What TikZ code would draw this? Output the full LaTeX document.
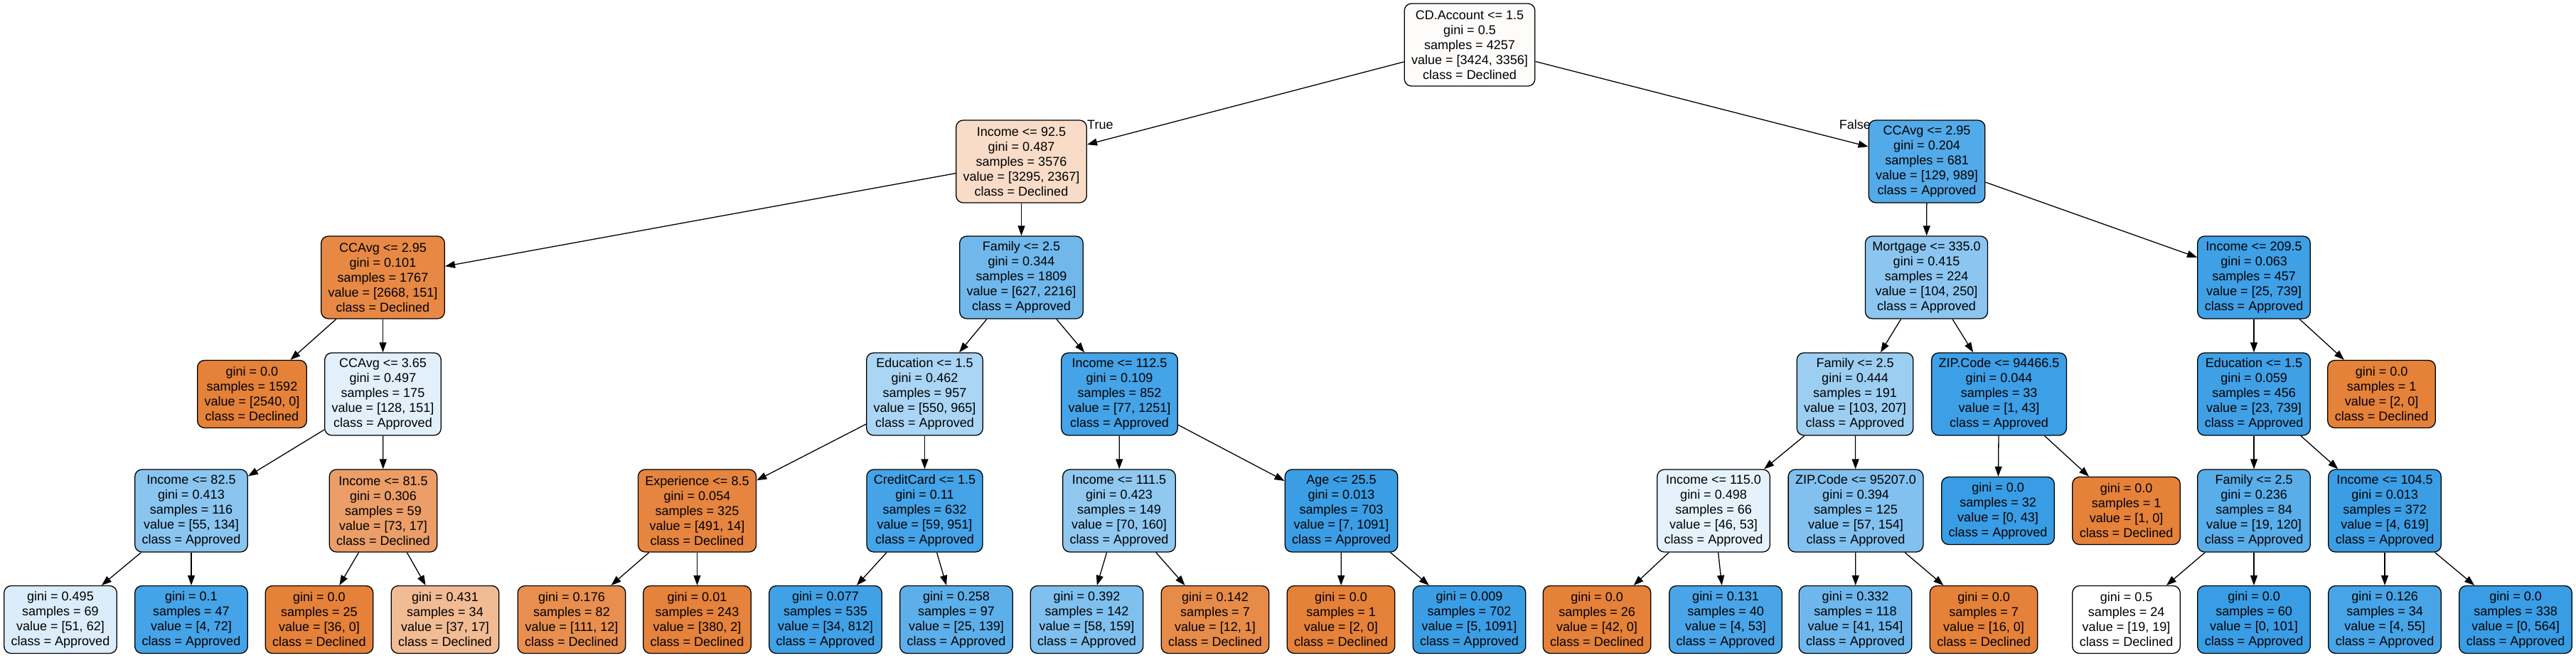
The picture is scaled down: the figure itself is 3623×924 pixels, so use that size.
\documentclass[tikz,border=0pt]{standalone}
\usepackage{fontspec}
\setmainfont{Liberation Sans}
\usetikzlibrary{arrows.meta}
\definecolor{dec}{HTML}{E58139}
\definecolor{app}{HTML}{399DE5}
\tikzset{
  tn/.style={draw=black, line width=1.3pt, rounded corners=10pt, align=center,
    inner xsep=10pt, inner ysep=0pt, font=\fontsize{18}{21}\selectfont},
  inode/.style={tn, minimum height=116pt},
  lnode/.style={tn, minimum height=95pt},
  conn/.style={line width=1.3pt, -{Triangle[length=14pt,width=10pt]}},
  elabel/.style={font=\fontsize{18}{21}\selectfont, inner sep=0pt}
}
\begin{document}
\begin{tikzpicture}[x=1pt,y=-1pt]
\useasboundingbox (0,0) rectangle (3623,924);
% rank 0
\node[inode, fill=dec!2!white] (n0) at (2067,63) {CD.Account <= 1.5\\gini = 0.5\\samples = 4257\\value = [3424, 3356]\\class = Declined};
% rank 1
\node[inode, fill=dec!28!white] (n1) at (1436.5,227) {Income <= 92.5\\gini = 0.487\\samples = 3576\\value = [3295, 2367]\\class = Declined};
\node[inode, fill=app!87!white] (n2) at (2710,227) {CCAvg <= 2.95\\gini = 0.204\\samples = 681\\value = [129, 989]\\class = Approved};
% rank 2
\node[inode, fill=dec!94!white] (n3) at (538.5,390) {CCAvg <= 2.95\\gini = 0.101\\samples = 1767\\value = [2668, 151]\\class = Declined};
\node[inode, fill=app!72!white] (n4) at (1436.5,390) {Family <= 2.5\\gini = 0.344\\samples = 1809\\value = [627, 2216]\\class = Approved};
\node[inode, fill=app!58!white] (n5) at (2709.5,390) {Mortgage <= 335.0\\gini = 0.415\\samples = 224\\value = [104, 250]\\class = Approved};
\node[inode, fill=app!97!white] (n6) at (3170,390) {Income <= 209.5\\gini = 0.063\\samples = 457\\value = [25, 739]\\class = Approved};
% rank 3
\node[lnode, fill=dec!100!white] (n7) at (354.5,554) {gini = 0.0\\samples = 1592\\value = [2540, 0]\\class = Declined};
\node[inode, fill=app!15!white] (n8) at (538.5,554) {CCAvg <= 3.65\\gini = 0.497\\samples = 175\\value = [128, 151]\\class = Approved};
\node[inode, fill=app!43!white] (n9) at (1300.5,554) {Education <= 1.5\\gini = 0.462\\samples = 957\\value = [550, 965]\\class = Approved};
\node[inode, fill=app!94!white] (n10) at (1574.5,554) {Income <= 112.5\\gini = 0.109\\samples = 852\\value = [77, 1251]\\class = Approved};
\node[inode, fill=app!50!white] (n11) at (2609,554) {Family <= 2.5\\gini = 0.444\\samples = 191\\value = [103, 207]\\class = Approved};
\node[inode, fill=app!98!white] (n12) at (2811.5,554) {ZIP.Code <= 94466.5\\gini = 0.044\\samples = 33\\value = [1, 43]\\class = Approved};
\node[inode, fill=app!97!white] (n13) at (3170,554) {Education <= 1.5\\gini = 0.059\\samples = 456\\value = [23, 739]\\class = Approved};
\node[lnode, fill=dec!100!white] (n14) at (3349.5,554) {gini = 0.0\\samples = 1\\value = [2, 0]\\class = Declined};
% rank 4
\node[inode, fill=app!59!white] (n15) at (269,718) {Income <= 82.5\\gini = 0.413\\samples = 116\\value = [55, 134]\\class = Approved};
\node[inode, fill=dec!77!white] (n16) at (539,718) {Income <= 81.5\\gini = 0.306\\samples = 59\\value = [73, 17]\\class = Declined};
\node[inode, fill=dec!97!white] (n17) at (980.5,718) {Experience <= 8.5\\gini = 0.054\\samples = 325\\value = [491, 14]\\class = Declined};
\node[inode, fill=app!94!white] (n18) at (1300.5,718) {CreditCard <= 1.5\\gini = 0.11\\samples = 632\\value = [59, 951]\\class = Approved};
\node[inode, fill=app!56!white] (n19) at (1574,718) {Income <= 111.5\\gini = 0.423\\samples = 149\\value = [70, 160]\\class = Approved};
\node[inode, fill=app!99!white] (n20) at (1886.5,718) {Age <= 25.5\\gini = 0.013\\samples = 703\\value = [7, 1091]\\class = Approved};
\node[inode, fill=app!13!white] (n21) at (2410,718) {Income <= 115.0\\gini = 0.498\\samples = 66\\value = [46, 53]\\class = Approved};
\node[inode, fill=app!63!white] (n22) at (2610,718) {ZIP.Code <= 95207.0\\gini = 0.394\\samples = 125\\value = [57, 154]\\class = Approved};
\node[lnode, fill=app!100!white] (n23) at (2810,718) {gini = 0.0\\samples = 32\\value = [0, 43]\\class = Approved};
\node[lnode, fill=dec!100!white] (n24) at (2990.5,718) {gini = 0.0\\samples = 1\\value = [1, 0]\\class = Declined};
\node[inode, fill=app!84!white] (n25) at (3170,718) {Family <= 2.5\\gini = 0.236\\samples = 84\\value = [19, 120]\\class = Approved};
\node[inode, fill=app!99!white] (n26) at (3354,718) {Income <= 104.5\\gini = 0.013\\samples = 372\\value = [4, 619]\\class = Approved};
% rank 5
\node[lnode, fill=app!18!white] (n27) at (85,871) {gini = 0.495\\samples = 69\\value = [51, 62]\\class = Approved};
\node[lnode, fill=app!94!white] (n28) at (269,871) {gini = 0.1\\samples = 47\\value = [4, 72]\\class = Approved};
\node[lnode, fill=dec!100!white] (n29) at (449,871) {gini = 0.0\\samples = 25\\value = [36, 0]\\class = Declined};
\node[lnode, fill=dec!54!white] (n30) at (626,871) {gini = 0.431\\samples = 34\\value = [37, 17]\\class = Declined};
\node[lnode, fill=dec!89!white] (n31) at (804,871) {gini = 0.176\\samples = 82\\value = [111, 12]\\class = Declined};
\node[lnode, fill=dec!99!white] (n32) at (980.5,871) {gini = 0.01\\samples = 243\\value = [380, 2]\\class = Declined};
\node[lnode, fill=app!96!white] (n33) at (1161,871) {gini = 0.077\\samples = 535\\value = [34, 812]\\class = Approved};
\node[lnode, fill=app!82!white] (n34) at (1345,871) {gini = 0.258\\samples = 97\\value = [25, 139]\\class = Approved};
\node[lnode, fill=app!64!white] (n35) at (1528.5,871) {gini = 0.392\\samples = 142\\value = [58, 159]\\class = Approved};
\node[lnode, fill=dec!92!white] (n36) at (1709,871) {gini = 0.142\\samples = 7\\value = [12, 1]\\class = Declined};
\node[lnode, fill=dec!100!white] (n37) at (1886,871) {gini = 0.0\\samples = 1\\value = [2, 0]\\class = Declined};
\node[lnode, fill=app!99!white] (n38) at (2066.5,871) {gini = 0.009\\samples = 702\\value = [5, 1091]\\class = Approved};
\node[lnode, fill=dec!100!white] (n39) at (2246,871) {gini = 0.0\\samples = 26\\value = [42, 0]\\class = Declined};
\node[lnode, fill=app!92!white] (n40) at (2427,871) {gini = 0.131\\samples = 40\\value = [4, 53]\\class = Approved};
\node[lnode, fill=app!73!white] (n41) at (2609.5,871) {gini = 0.332\\samples = 118\\value = [41, 154]\\class = Approved};
\node[lnode, fill=dec!100!white] (n42) at (2790,871) {gini = 0.0\\samples = 7\\value = [16, 0]\\class = Declined};
\node[lnode, fill=white] (n43) at (2990.5,871) {gini = 0.5\\samples = 24\\value = [19, 19]\\class = Declined};
\node[lnode, fill=app!100!white] (n44) at (3170,871) {gini = 0.0\\samples = 60\\value = [0, 101]\\class = Approved};
\node[lnode, fill=app!93!white] (n45) at (3354,871) {gini = 0.126\\samples = 34\\value = [4, 55]\\class = Approved};
\node[lnode, fill=app!100!white] (n46) at (3538,871) {gini = 0.0\\samples = 338\\value = [0, 564]\\class = Approved};
% edge labels
\node[elabel, anchor=west] (lt) at (1529,175) {True};
\node[elabel, anchor=east] (lf) at (2631,175) {False};
% edges
\foreach \a/\b in {n0/n1,n0/n2,n1/n3,n1/n4,n2/n5,n2/n6,n3/n7,n3/n8,n4/n9,n4/n10,
  n5/n11,n5/n12,n6/n13,n6/n14,n8/n15,n8/n16,n9/n17,n9/n18,n10/n19,n10/n20,
  n11/n21,n11/n22,n12/n23,n12/n24,n13/n25,n13/n26,n15/n27,n15/n28,n16/n29,n16/n30,
  n17/n31,n17/n32,n18/n33,n18/n34,n19/n35,n19/n36,n20/n37,n20/n38,n21/n39,n21/n40,
  n22/n41,n22/n42,n25/n43,n25/n44,n26/n45,n26/n46}
  \draw[conn] (\a) -- (\b);
\end{tikzpicture}
\end{document}
